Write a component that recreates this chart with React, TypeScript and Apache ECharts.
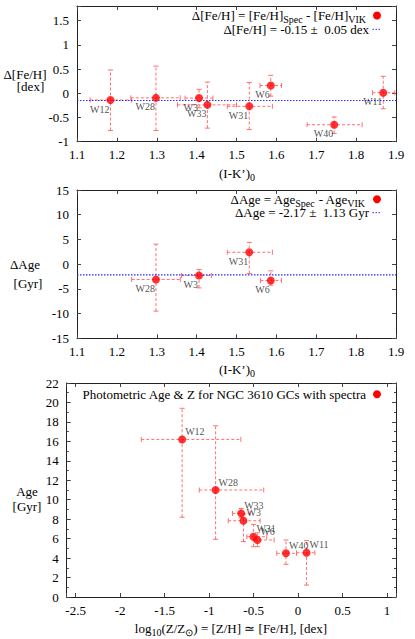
import React, { useEffect, useRef } from 'react';
import * as echarts from 'echarts';

// ---------- data ----------
const ikRange = [1.1, 1.9];

// Panel 1: Δ[Fe/H] vs (I-K')0
const feNames = ['W12', 'W28', 'W3', 'W33', 'W31', 'W6', 'W40', 'W11'];
const feIK = [1.184, 1.298, 1.406, 1.427, 1.532, 1.586, 1.745, 1.868];
const feIKLo = [1.133, 1.235, 1.371, 1.352, 1.477, 1.559, 1.677, 1.841];
const feIKHi = [1.237, 1.359, 1.441, 1.5, 1.59, 1.613, 1.815, 1.897];
const feD = [-0.14, -0.095, -0.1, -0.24, -0.27, 0.16, -0.65, 0.01];
const feDLo = [-0.77, -0.77, -0.3, -0.72, -0.75, -0.06, -0.83, -0.32];
const feDHi = [0.48, 0.56, 0.08, 0.23, 0.22, 0.37, -0.49, 0.35];
const feMean = -0.15;

// Panel 2: ΔAge vs (I-K')0
const ageNames = ['W28', 'W3', 'W31', 'W6'];
const ageIK = [1.298, 1.406, 1.532, 1.586];
const ageIKLo = [1.237, 1.362, 1.477, 1.56];
const ageIKHi = [1.359, 1.437, 1.59, 1.613];
const ageD = [-3.1, -2.3, 2.4, -3.3];
const ageDLo = [-9.5, -4.8, -1.9, -4.25];
const ageDHi = [4.05, -1.07, 4.4, -1.36];
const ageMean = -2.17;

// Panel 3: photometric Age vs [Z/H]
const phNames = ['W12', 'W28', 'W33', 'W3', 'W31', 'W6', 'W40', 'W11'];
const phZ = [-1.303, -0.927, -0.64, -0.614, -0.502, -0.457, -0.136, 0.095];
const phZLo = [-1.762, -1.11, -0.737, -0.785, -0.576, -0.494, -0.24, -0.017];
const phZHi = [-0.643, -0.386, -0.539, -0.427, -0.352, -0.27, -0.017, 0.188];
const phAge = [16.2, 11.0, 8.6, 7.84, 6.2, 5.86, 4.49, 4.55];
const phAgeLo = [8.2, 5.93, 8.15, 5.7, 5.17, 5.17, 3.36, 1.23];
const phAgeHi = [19.4, 17.6, 9.1, 8.45, 7.47, 6.6, 5.86, 5.8];

// ---------- styles ----------
const SERIF = 'Liberation Serif';
const RED = '#ff0000';
const ERR = '#ff7070';
const BLUE = '#2a2aff';
const AXIS = '#222222';

function errRender(params: any, api: any) {
  const x = api.value(0);
  const y = api.value(1);
  const xl = api.coord([api.value(2), y]);
  const xh = api.coord([api.value(3), y]);
  const yl = api.coord([x, api.value(4)]);
  const yh = api.coord([x, api.value(5)]);
  const c = 2.5;
  const style = { stroke: ERR, lineWidth: 1, lineDash: [3, 2], fill: null };
  const cap = { stroke: ERR, lineWidth: 1, fill: null };
  return {
    type: 'group',
    children: [
      { type: 'line', shape: { x1: xl[0], y1: xl[1], x2: xh[0], y2: xh[1] }, style },
      { type: 'line', shape: { x1: yl[0], y1: yl[1], x2: yh[0], y2: yh[1] }, style },
      { type: 'line', shape: { x1: xl[0], y1: xl[1] - c, x2: xl[0], y2: xl[1] + c }, style: cap },
      { type: 'line', shape: { x1: xh[0], y1: xh[1] - c, x2: xh[0], y2: xh[1] + c }, style: cap },
      { type: 'line', shape: { x1: yl[0] - c, y1: yl[1], x2: yl[0] + c, y2: yl[1] }, style: cap },
      { type: 'line', shape: { x1: yh[0] - c, y1: yh[1], x2: yh[0] + c, y2: yh[1] }, style: cap },
    ],
  };
}

function isMultiple(v: number, step: number) {
  const r = v / step;
  return Math.abs(r - Math.round(r)) < 1e-6;
}

const TICK_RICH = { t: { fontFamily: SERIF, fontSize: 13, color: '#000' } };

function axis(opts: any) {
  const { showLabel, step, minor, margin, ...rest } = opts;
  return {
    type: 'value',
    scale: true,
    axisLine: { show: true, onZero: false, lineStyle: { color: AXIS, width: 1 } },
    axisTick: { show: true, inside: true, length: 4, lineStyle: { color: '#444' } },
    minorTick: minor
      ? { show: true, splitNumber: 2, length: 2, lineStyle: { color: '#444' } }
      : { show: false },
    splitLine: { show: false },
    axisLabel: {
      show: showLabel,
      color: '#000',
      fontFamily: SERIF,
      fontSize: 13,
      margin: margin ?? 8,
      showMinLabel: true,
      showMaxLabel: true,
      rich: TICK_RICH,
      formatter: (v: number) =>
        isMultiple(v, step) ? '{t|' + String(Math.round(v * 100) / 100) + '}' : '',
    },
    ...rest,
  };
}

function errData(xs: number[], ys: number[], xlo: number[], xhi: number[], ylo: number[], yhi: number[]) {
  return xs.map((x, i) => [x, ys[i], xlo[i], xhi[i], ylo[i], yhi[i]]);
}

function pointData(names: string[], xs: number[], ys: number[]) {
  return names.map((n, i) => ({ name: n, value: [xs[i], ys[i]] }));
}

function txt(x: number, y: number, text: string, align: string, rich?: any, size = 13) {
  return {
    type: 'text',
    x,
    y,
    silent: true,
    style: {
      text,
      fill: '#000',
      fontFamily: SERIF,
      fontSize: size,
      align,
      textAlign: align,
      verticalAlign: 'middle',
      textVerticalAlign: 'middle',
      rich,
    },
  };
}

const RICH = {
  m: { fontFamily: SERIF, fontSize: 13, lineHeight: 18, fill: '#000', color: '#000' },
  s: { fontFamily: SERIF, fontSize: 10, lineHeight: 10, verticalAlign: 'bottom', fill: '#000', color: '#000' },
};

function legendDot(x: number, y: number) {
  return { type: 'circle', silent: true, shape: { cx: x, cy: y, r: 4 }, style: { fill: RED } };
}
function legendLine(x: number, y: number) {
  return {
    type: 'line',
    silent: true,
    shape: { x1: x, y1: y, x2: x + 8, y2: y },
    style: { stroke: BLUE, lineWidth: 1, lineDash: [1.5, 1.5] },
  };
}

const pointLabelLeft = {
  show: true,
  formatter: '{n|{b}}',
  position: 'inside',
  align: 'right',
  verticalAlign: 'middle',
  offset: [-1, 9],
  fontFamily: SERIF,
  fontSize: 10,
  color: '#222',
  rich: { n: { fontFamily: SERIF, fontSize: 10, color: '#222' } },
};
const pointLabelRight = {
  ...pointLabelLeft,
  align: 'left',
  offset: [3, -8],
};

const option: any = {
  animation: false,
  backgroundColor: '#fff',
  textStyle: { fontFamily: SERIF },
  grid: [
    { left: 77, top: 6, width: 319, height: 135.7 },
    { left: 77, top: 190, width: 319, height: 148.3 },
    { left: 66.7, top: 383, width: 329.3, height: 214 },
  ],
  xAxis: [
    axis({ gridIndex: 0, min: ikRange[0], max: ikRange[1], interval: 0.1, step: 0.1, showLabel: true, margin: 6 }),
    axis({ gridIndex: 0, min: ikRange[0], max: ikRange[1], interval: 0.1, step: 0.1, showLabel: false, position: 'top' }),
    axis({ gridIndex: 1, min: ikRange[0], max: ikRange[1], interval: 0.1, step: 0.1, showLabel: true, margin: 7 }),
    axis({ gridIndex: 1, min: ikRange[0], max: ikRange[1], interval: 0.1, step: 0.1, showLabel: false, position: 'top' }),
    axis({ gridIndex: 2, min: -2.6, max: 1.1, splitNumber: 7, step: 0.5, showLabel: true, margin: 7 }),
    axis({ gridIndex: 2, min: -2.6, max: 1.1, splitNumber: 7, step: 0.5, showLabel: false, position: 'top' }),
  ],
  yAxis: [
    axis({ gridIndex: 0, min: -1, max: 1.8, interval: 0.5, step: 0.5, showLabel: true }),
    axis({ gridIndex: 0, min: -1, max: 1.8, interval: 0.5, step: 0.5, showLabel: false, position: 'right' }),
    axis({ gridIndex: 1, min: -15, max: 15, interval: 5, step: 5, showLabel: true }),
    axis({ gridIndex: 1, min: -15, max: 15, interval: 5, step: 5, showLabel: false, position: 'right' }),
    axis({ gridIndex: 2, min: 0, max: 22, interval: 2, step: 2, showLabel: true, minor: true }),
    axis({ gridIndex: 2, min: 0, max: 22, interval: 2, step: 2, showLabel: false, minor: true, position: 'right' }),
  ],
  series: [
    // panel 1
    {
      type: 'custom', xAxisIndex: 0, yAxisIndex: 0, renderItem: errRender, clip: true, silent: true,
      encode: { x: 0, y: 1 }, data: errData(feIK, feD, feIKLo, feIKHi, feDLo, feDHi), z: 1,
    },
    {
      type: 'line', xAxisIndex: 0, yAxisIndex: 0, symbol: 'none', silent: true, z: 2,
      lineStyle: { color: BLUE, width: 1.2, type: [1.5, 1.5] },
      data: [[ikRange[0], feMean], [ikRange[1], feMean]],
    },
    {
      type: 'scatter', xAxisIndex: 0, yAxisIndex: 0, symbolSize: 8, z: 3,
      itemStyle: { color: RED }, label: pointLabelLeft, data: pointData(feNames, feIK, feD),
    },
    // panel 2
    {
      type: 'custom', xAxisIndex: 2, yAxisIndex: 2, renderItem: errRender, clip: true, silent: true,
      encode: { x: 0, y: 1 }, data: errData(ageIK, ageD, ageIKLo, ageIKHi, ageDLo, ageDHi), z: 1,
    },
    {
      type: 'line', xAxisIndex: 2, yAxisIndex: 2, symbol: 'none', silent: true, z: 2,
      lineStyle: { color: BLUE, width: 1.2, type: [1.5, 1.5] },
      data: [[ikRange[0], ageMean], [ikRange[1], ageMean]],
    },
    {
      type: 'scatter', xAxisIndex: 2, yAxisIndex: 2, symbolSize: 8, z: 3,
      itemStyle: { color: RED }, label: pointLabelLeft, data: pointData(ageNames, ageIK, ageD),
    },
    // panel 3
    {
      type: 'custom', xAxisIndex: 4, yAxisIndex: 4, renderItem: errRender, clip: true, silent: true,
      encode: { x: 0, y: 1 }, data: errData(phZ, phAge, phZLo, phZHi, phAgeLo, phAgeHi), z: 1,
    },
    {
      type: 'scatter', xAxisIndex: 4, yAxisIndex: 4, symbolSize: 8, z: 3,
      itemStyle: { color: RED }, label: pointLabelRight, data: pointData(phNames, phZ, phAge),
    },
  ],
  graphic: [
    // panel 1 titles
    txt(25, 74, 'Δ[Fe/H]', 'center'),
    txt(30.5, 86, '[dex]', 'center'),
    txt(237, 173, '{m|(I-K’)}{s|0}', 'center', RICH),
    txt(366, 15.7, '{m|Δ[Fe/H] = [Fe/H]}{s|Spec}{m| - [Fe/H]}{s|VIK}', 'right', RICH),
    txt(369, 29.3, 'Δ[Fe/H] = -0.15 ±\u00a0 0.05 dex', 'right'),
    legendDot(377, 15.5),
    legendLine(372.5, 29.3),
    // panel 2 titles
    txt(25, 264, 'ΔAge', 'center'),
    txt(28, 283.3, '[Gyr]', 'center'),
    txt(237, 369.3, '{m|(I-K’)}{s|0}', 'center', RICH),
    txt(365, 199, '{m|ΔAge = Age}{s|Spec}{m| - Age}{s|VIK}', 'right', RICH),
    txt(369, 212.7, 'ΔAge = -2.17 ±\u00a0 1.13 Gyr', 'right'),
    legendDot(377, 199.3),
    legendLine(372.5, 212.7),
    // panel 3 titles
    txt(27, 491, 'Age', 'center'),
    txt(27, 506, '[Gyr]', 'center'),
    txt(231, 628, '{m|log}{s|10}{m|(Z/Z}{s|⊙}{m|) = [Z/H] ≃ [Fe/H], [dex]}', 'center', RICH),
    txt(366, 394.3, 'Photometric Age & Z for NGC 3610 GCs with spectra', 'right'),
    legendDot(377, 394.3),
  ],
};

export default function App() {
  const ref = useRef<HTMLDivElement>(null);
  useEffect(() => {
    if (!ref.current) return;
    const chart = echarts.init(ref.current, null, { renderer: 'svg' });
    chart.setOption(option);
    return () => chart.dispose();
  }, []);
  return (
    <div
      ref={ref}
      style={{ position: 'fixed', left: 0, top: 0, width: 415, height: 639, background: '#fff' }}
    />
  );
}
